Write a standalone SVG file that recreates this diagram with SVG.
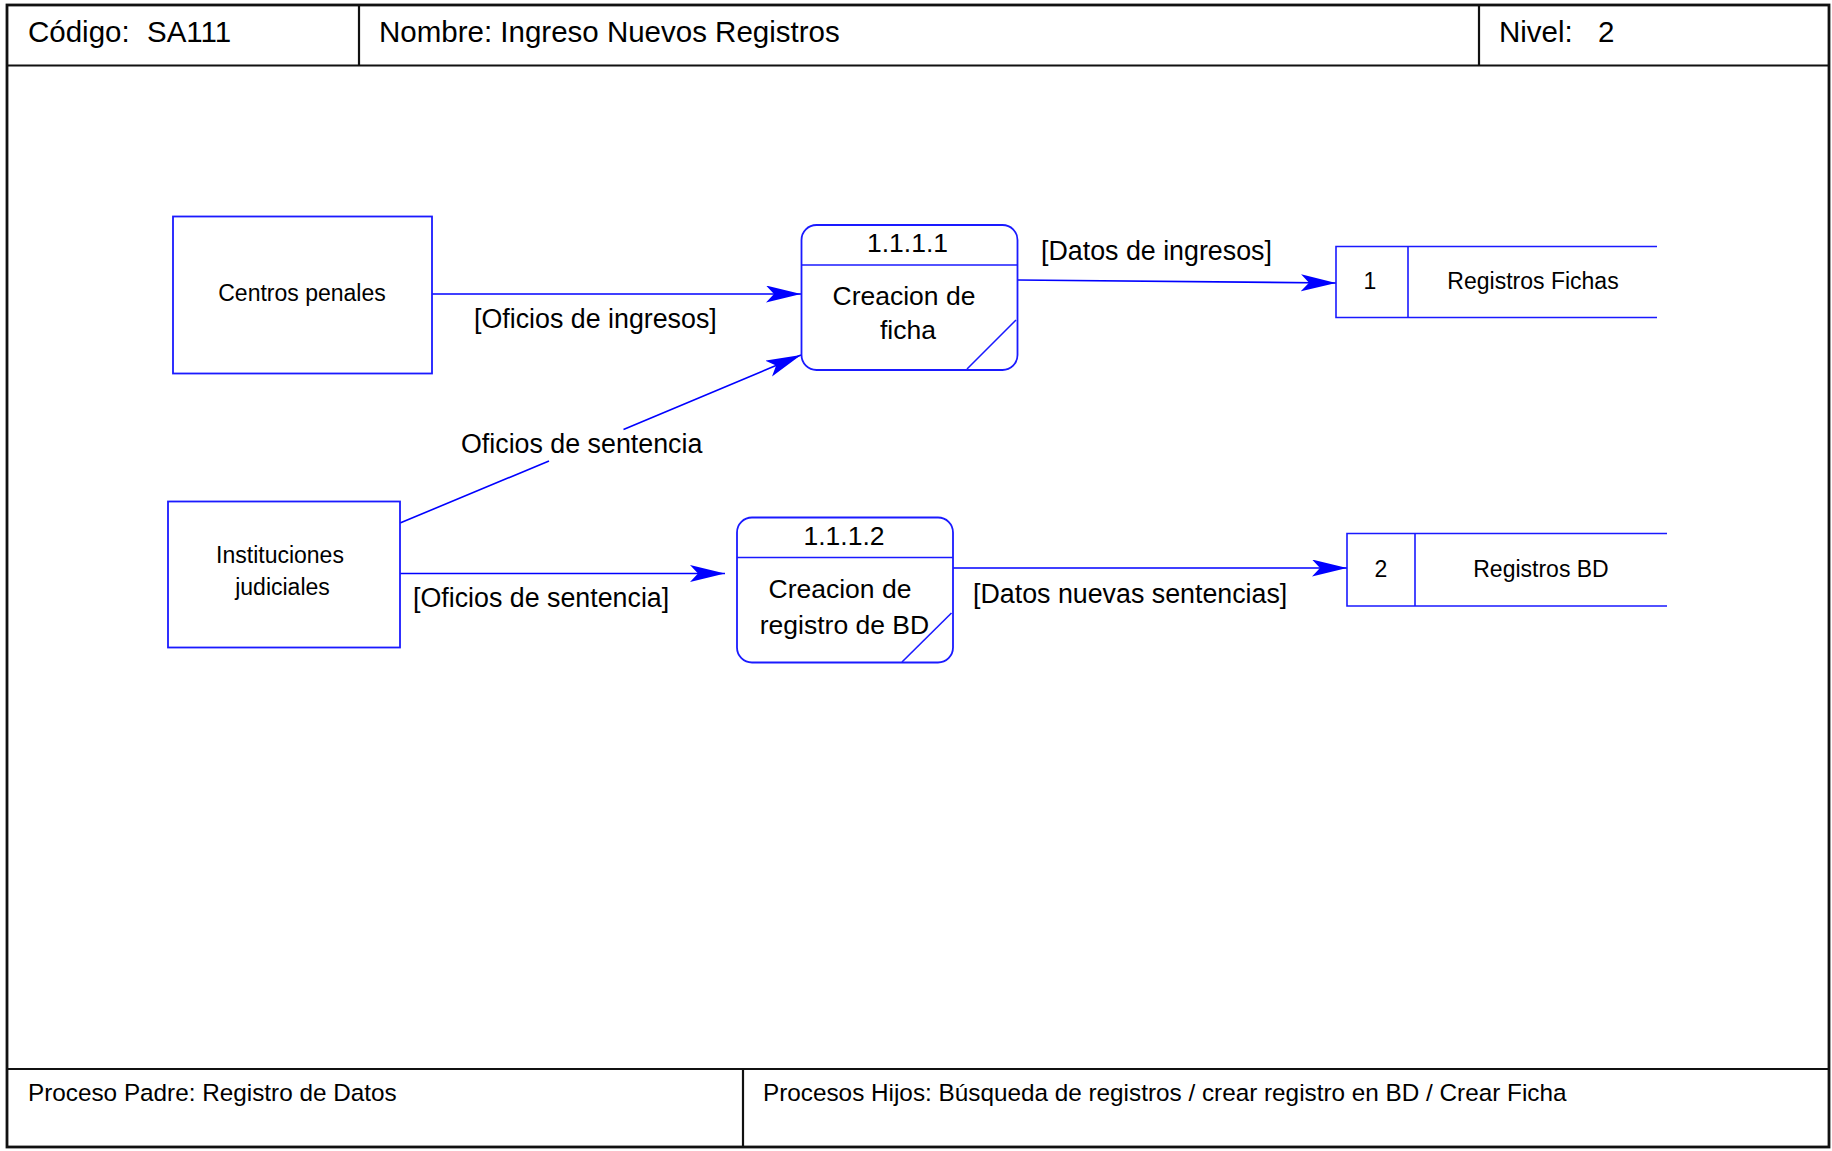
<svg xmlns="http://www.w3.org/2000/svg" width="1832" height="1151" viewBox="0 0 1832 1151">
  <style>
    .frame { fill: none; stroke: #111; stroke-width: 2.8; }
    .rule { stroke: #111; stroke-width: 2.2; }
    .box { fill: #fff; stroke: #1a1aff; stroke-width: 1.8; }
    .edge { fill: none; stroke: #1a1aff; stroke-width: 1.6; }
    .flow { fill: none; stroke: #0000ff; stroke-width: 1.6; marker-end: url(#stealth); }
    text { font-family: "Liberation Sans", Arial, sans-serif; fill: #000; }
    .hdr { font-size: 29.5px; }
    .ftr { font-size: 24.3px; }
    .ent { font-size: 23px; text-anchor: middle; }
    .proc { font-size: 26.5px; text-anchor: middle; }
    .lbl { font-size: 26.8px; }
  </style>
  <defs>
    <marker id="stealth" markerUnits="userSpaceOnUse" markerWidth="36" markerHeight="18" refX="35" refY="8.5" orient="auto">
      <path d="M0,0 L35,8.5 L0,17 L8,8.5 z" fill="#0000ff"/>
    </marker>
  </defs>

  <rect width="1832" height="1151" fill="#fff"/>

  <!-- title block -->
  <g id="title-block">
    <rect class="frame" x="7" y="5" width="1822" height="1142"/>
    <line class="rule" x1="7" y1="65.5" x2="1829" y2="65.5"/>
    <line class="rule" x1="359" y1="5" x2="359" y2="65.5"/>
    <line class="rule" x1="1479" y1="5" x2="1479" y2="65.5"/>
    <line class="rule" x1="7" y1="1069" x2="1829" y2="1069"/>
    <line class="rule" x1="743" y1="1069" x2="743" y2="1147"/>
    <text class="hdr" x="28" y="41.5">Código:</text>
    <text class="hdr" x="147" y="41.5">SA111</text>
    <text class="hdr" x="379" y="41.5">Nombre: Ingreso Nuevos Registros</text>
    <text class="hdr" x="1499" y="41.5">Nivel:</text>
    <text class="hdr" x="1598" y="41.5">2</text>
    <text class="ftr" x="28" y="1101">Proceso Padre: Registro de Datos</text>
    <text class="ftr" x="763" y="1101">Procesos Hijos: Búsqueda de registros / crear registro en BD / Crear Ficha</text>
  </g>

  <!-- connectors -->
  <g id="connectors">
    <path class="flow" d="M432,294 L801,294"/>
    <path class="flow" d="M400,523 L549,461 M623.5,429.5 L801,355"/>
    <path class="flow" d="M400,573.5 L725,573.5"/>
    <path class="flow" d="M1017.5,280 L1336,283"/>
    <path class="flow" d="M953,568 L1347,568"/>
    <text class="lbl" x="474" y="328">[Oficios de ingresos]</text>
    <text class="lbl" x="461" y="453">Oficios de sentencia</text>
    <text class="lbl" x="413" y="607">[Oficios de sentencia]</text>
    <text class="lbl" x="1041" y="260">[Datos de ingresos]</text>
    <text class="lbl" x="973" y="603">[Datos nuevas sentencias]</text>
  </g>

  <!-- external entities -->
  <g id="centros-penales">
    <rect class="box" x="173" y="216.5" width="259" height="157"/>
    <text class="ent" x="302" y="300.5">Centros penales</text>
  </g>
  <g id="instituciones-judiciales">
    <rect class="box" x="168" y="501.5" width="232" height="146"/>
    <text class="ent" x="280" y="563">Instituciones</text>
    <text class="ent" x="282.5" y="595">judiciales</text>
  </g>

  <!-- processes -->
  <g id="proc-1111">
    <rect class="box" x="801.5" y="225" width="216" height="145" rx="15" ry="15"/>
    <line class="edge" x1="801.5" y1="265" x2="1017.5" y2="265"/>
    <line class="edge" x1="1016" y1="320" x2="967" y2="369"/>
    <text class="proc" x="907.5" y="252">1.1.1.1</text>
    <text class="proc" x="904" y="305">Creacion de</text>
    <text class="proc" x="908" y="339">ficha</text>
  </g>
  <g id="proc-1112">
    <rect class="box" x="737" y="517.5" width="216" height="145" rx="15" ry="15"/>
    <line class="edge" x1="737" y1="557.5" x2="953" y2="557.5"/>
    <line class="edge" x1="951.5" y1="613" x2="902" y2="662"/>
    <text class="proc" x="844" y="544.5">1.1.1.2</text>
    <text class="proc" x="840" y="598">Creacion de</text>
    <text class="proc" x="844.5" y="633.5">registro de BD</text>
  </g>

  <!-- data stores -->
  <g id="store-1">
    <path class="edge" d="M1657,246.5 L1336,246.5 L1336,317.5 L1657,317.5 M1408,246.5 L1408,317.5"/>
    <text class="ent" x="1370" y="288.5">1</text>
    <text class="ent" x="1533" y="288.5">Registros Fichas</text>
  </g>
  <g id="store-2">
    <path class="edge" d="M1667,533.5 L1347,533.5 L1347,606 L1667,606 M1415,533.5 L1415,606"/>
    <text class="ent" x="1381" y="576.5">2</text>
    <text class="ent" x="1541" y="576.5">Registros BD</text>
  </g>
</svg>
